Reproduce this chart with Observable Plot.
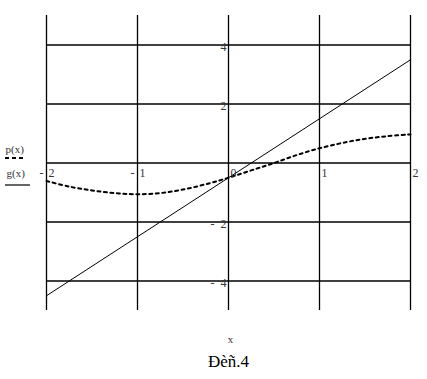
<!DOCTYPE html>
<html><head><meta charset="utf-8">
<script src="https://cdn.jsdelivr.net/npm/d3@7"></script>
<script src="https://cdn.jsdelivr.net/npm/@observablehq/plot@0.6"></script>
<style>
body{margin:0;background:#fff;}
#wrap{position:relative;width:427px;height:379px;font-family:"Liberation Serif","Times New Roman",serif;}
</style></head>
<body><div id="wrap"></div>
<script>
const xTicks = [-2, -1, 0, 1, 2];
const yTicks = [4, 2, 0, -2, -4];
const xLabelTicks = [-2, -1, 0, 1, 2];
const yLabelTicks = [4, 2, -2, -4];
const gX = [-2, 2];
const gY = [-4.5, 3.5];
const pX = [-2, -1.75, -1.5, -1.25, -1, -0.75, -0.5, -0.25, 0, 0.25, 0.5, 0.75, 1, 1.25, 1.5, 1.75, 2];
const pY = [-0.61, -0.80, -0.93, -1.02, -1.06, -1.02, -0.90, -0.72, -0.50, -0.25, 0.0, 0.27, 0.50, 0.68, 0.82, 0.91, 0.97];
const gData = gX.map((x, i) => ({x, y: gY[i]}));
const pData = pX.map((x, i) => ({x, y: pY[i]}));
const font = "Liberation Serif, Times New Roman, serif";
const lab = "#333";

const chart = Plot.plot({
  width: 427, height: 379,
  marginLeft: 46, marginRight: 17, marginTop: 15, marginBottom: 69,
  x: {domain: [-2, 2], axis: null},
  y: {domain: [-5, 5], axis: null},
  style: {fontFamily: font, background: "#fff"},
  marks: [
    Plot.ruleX(xTicks, {stroke: "#000", strokeWidth: 1.3}),
    Plot.ruleY(yTicks, {stroke: "#000", strokeWidth: 1.3}),
    Plot.line(gData, {x: "x", y: "y", stroke: "#000", strokeWidth: 1}),
    Plot.line(pData, {x: "x", y: "y", stroke: "#000", strokeWidth: 2, strokeDasharray: "3,3.5", curve: "catmull-rom"}),
    // x tick labels
    Plot.text(xLabelTicks, {x: d => d, y: () => 0, text: d => String(Math.abs(d)), textAnchor: "start", dx: 2, dy: 10, fontSize: 12, fill: lab}),
    Plot.text(xLabelTicks.filter(d => d < 0), {x: d => d, y: () => 0, text: () => "-", textAnchor: "end", dx: -3, dy: 10, fontSize: 12, fill: lab}),
    // y tick labels
    Plot.text(yLabelTicks, {x: () => 0, y: d => d, text: d => String(Math.abs(d)), textAnchor: "end", dx: -2, dy: 2, fontSize: 12, fill: lab}),
    Plot.text(yLabelTicks.filter(d => d < 0), {x: () => 0, y: d => d, text: () => "-", textAnchor: "end", dx: -14, dy: 2, fontSize: 12, fill: lab}),
    // axis title and caption
    Plot.text(["x"], {frameAnchor: "bottom", dx: 2, dy: 32, fontSize: 11, fill: lab}),
    Plot.text(["Đèñ.4"], {frameAnchor: "bottom", dy: 56, fontSize: 17, fill: "#000"}),
    // legend labels
    Plot.text(["p(x)"], {frameAnchor: "left", dx: -41, dy: -14, fontSize: 11, textAnchor: "start", fill: lab}),
    Plot.text(["g(x)"], {frameAnchor: "left", dx: -40, dy: 10, fontSize: 11, textAnchor: "start", fill: lab})
  ]
});
document.getElementById("wrap").appendChild(chart);
// legend swatches
const svg = d3.select(chart);
svg.append("line").attr("x1", 5).attr("x2", 26).attr("y1", 158).attr("y2", 158)
  .attr("stroke", "#000").attr("stroke-width", 2).attr("stroke-dasharray", "4,3");
svg.append("line").attr("x1", 5).attr("x2", 30).attr("y1", 185).attr("y2", 185)
  .attr("stroke", "#000").attr("stroke-width", 1.2);
</script></body></html>
